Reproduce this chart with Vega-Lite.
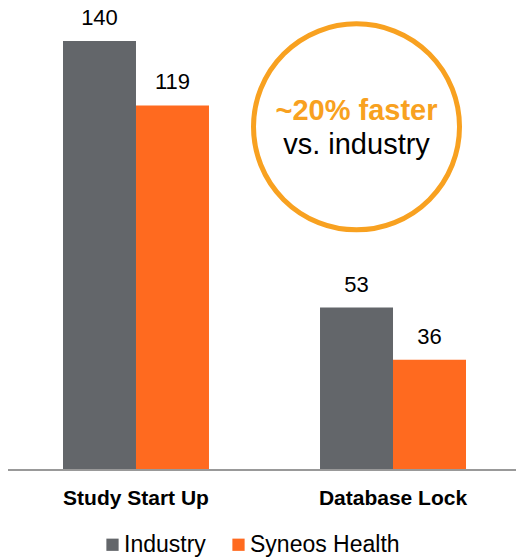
{
  "$schema": "https://vega.github.io/schema/vega-lite/v6.json",
  "width": 508,
  "height": 470,
  "autosize": "none",
  "padding": {"left": 8, "top": 0, "right": 0, "bottom": 89},
  "config": {"view": {"stroke": null}, "font": "Liberation Sans"},
  "datasets": {
    "bars": [
      {"cat": "Study Start Up", "series": "Industry", "v": 140},
      {"cat": "Study Start Up", "series": "Syneos Health", "v": 119},
      {"cat": "Database Lock", "series": "Industry", "v": 53},
      {"cat": "Database Lock", "series": "Syneos Health", "v": 36}
    ],
    "note": [
      {"cat": "Database Lock", "series": "Industry", "v": 112}
    ]
  },
  "layer": [
    {
      "data": {"name": "bars"},
      "mark": {"type": "bar"},
      "encoding": {
        "x": {"field": "cat", "type": "nominal", "sort": ["Study Start Up", "Database Lock"],
          "scale": {"range": [55, 458], "paddingInner": 0.432, "paddingOuter": 0},
          "axis": {"title": null, "domain": false, "ticks": false, "tickSize": 0, "labelPadding": 17, "labelFontSize": 21, "labelFontWeight": "bold", "labelColor": "#000000", "labelAngle": 0}},
        "xOffset": {"field": "series", "type": "nominal", "sort": ["Industry", "Syneos Health"], "scale": {"paddingInner": 0, "paddingOuter": 0}},
        "y": {"field": "v", "type": "quantitative", "scale": {"domain": [0, 153.4], "nice": false}, "axis": null},
        "color": {"field": "series", "type": "nominal",
          "scale": {"domain": ["Industry", "Syneos Health"], "range": ["#63666A", "#FF6A1F"]},
          "legend": {"title": null, "orient": "none", "legendX": 93, "legendY": 533, "direction": "horizontal", "symbolType": "square", "symbolSize": 150, "symbolStrokeWidth": 0, "symbolOpacity": 1, "labelFontSize": 23, "labelColor": "#000000", "columnPadding": 21, "labelOffset": 0}}
      }
    },
    {
      "data": {"name": "bars"},
      "mark": {"type": "text", "dy": -16, "baseline": "alphabetic", "fontSize": 22, "color": "#000000"},
      "encoding": {
        "x": {"field": "cat", "type": "nominal", "sort": ["Study Start Up", "Database Lock"]},
        "xOffset": {"field": "series", "type": "nominal", "sort": ["Industry", "Syneos Health"]},
        "y": {"field": "v", "type": "quantitative"},
        "text": {"field": "v", "type": "quantitative"}
      }
    },
    {
      "data": {"values": [{}]},
      "mark": {"type": "rule", "color": "#999999", "strokeWidth": 2},
      "encoding": {"y": {"datum": 0, "type": "quantitative"}}
    },
    {
      "data": {"name": "note"},
      "mark": {"type": "point", "shape": "circle", "size": 42436, "strokeWidth": 5, "color": "#F8A120", "filled": false, "opacity": 1},
      "encoding": {
        "x": {"field": "cat", "type": "nominal", "sort": ["Study Start Up", "Database Lock"]},
        "xOffset": {"field": "series", "type": "nominal", "sort": ["Industry", "Syneos Health"]},
        "y": {"field": "v", "type": "quantitative"}
      }
    },
    {
      "data": {"name": "note"},
      "mark": {"type": "text", "text": "~20% faster", "dy": -7, "baseline": "alphabetic", "fontSize": 29, "fontWeight": "bold", "color": "#F8A120"},
      "encoding": {
        "x": {"field": "cat", "type": "nominal", "sort": ["Study Start Up", "Database Lock"]},
        "xOffset": {"field": "series", "type": "nominal", "sort": ["Industry", "Syneos Health"]},
        "y": {"field": "v", "type": "quantitative"}
      }
    },
    {
      "data": {"name": "note"},
      "mark": {"type": "text", "text": "vs. industry", "dy": 27, "baseline": "alphabetic", "fontSize": 29, "color": "#000000"},
      "encoding": {
        "x": {"field": "cat", "type": "nominal", "sort": ["Study Start Up", "Database Lock"]},
        "xOffset": {"field": "series", "type": "nominal", "sort": ["Industry", "Syneos Health"]},
        "y": {"field": "v", "type": "quantitative"}
      }
    }
  ]
}
